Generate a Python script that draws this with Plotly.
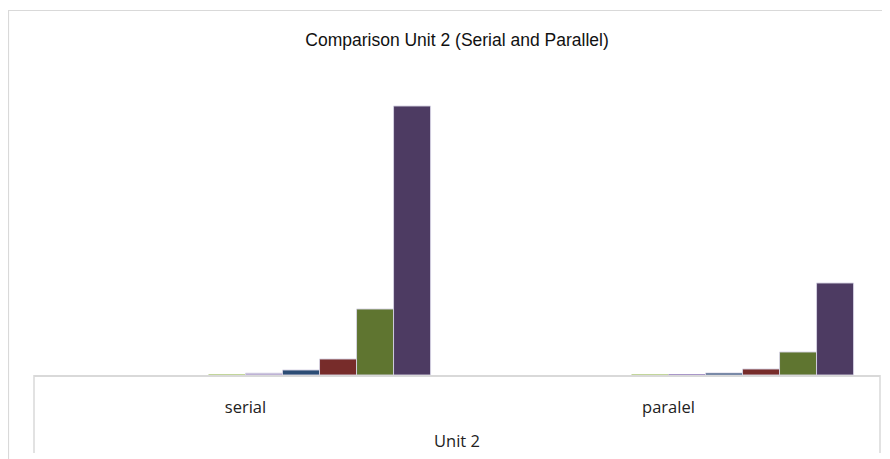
import plotly.graph_objects as go

categories = ["serial", "paralel"]
series_names = ["Series 1", "Series 2", "Series 3", "Series 4", "Series 5",
                "Series 6", "Series 7", "Series 8", "Series 9", "Series 10"]
serial_values = [0, 0, 0, 0, 0.4, 1.8, 5, 16, 66, 269]
paralel_values = [0, 0, 0, 0, 0.2, 0.8, 2, 6, 23, 92]
colors = ["#4F81BD", "#C0504D", "#9BBB59", "#8064A2", "#C3D69B",
          "#A997C9", "#2C4D75", "#772C2A", "#5F7530", "#4D3B62"]

# page body has an 8px margin, so the figure is sized to fit the window
OFF = 8
W, H = 890 - OFF, 459 - OFF
ml, mr, mt, mb = 34 - OFF, 10, 50 - OFF, 84
pw, ph = W - ml - mr, H - mt - mb

def px_x(p):
    return (p - OFF - ml) / pw

def px_y(p):
    return (H - mb - (p - OFF)) / ph

fig = go.Figure()
for i, name in enumerate(series_names):
    vals = [serial_values[i], paralel_values[i]]
    fig.add_trace(go.Bar(
        x=categories,
        y=vals,
        name=name,
        marker=dict(color=colors[i],
                    line=dict(color="rgba(215,212,228,0.9)",
                              width=[1 if v > 1 else 0 for v in vals])),
    ))

shapes = [
    dict(type="rect", xref="paper", yref="paper",
         x0=px_x(8.5), x1=px_x(910), y0=px_y(480), y1=px_y(10.5),
         line=dict(color="#d9d9d9", width=1.2), fillcolor="rgba(0,0,0,0)", layer="below"),
    dict(type="line", xref="paper", yref="paper",
         x0=0, x1=0, y0=0, y1=px_y(453), line=dict(color="#d9d9d9", width=1.5)),
    dict(type="line", xref="paper", yref="paper",
         x0=1, x1=1, y0=0, y1=px_y(453), line=dict(color="#d9d9d9", width=1.5)),
]

fig.update_layout(
    width=W, height=H,
    margin=dict(l=ml, r=mr, t=mt, b=mb),
    paper_bgcolor="white", plot_bgcolor="white",
    barmode="group", bargap=0.125, bargroupgap=0,
    showlegend=False,
    title=dict(text="Comparison Unit 2 (Serial and Parallel)",
               x=0.5, xref="paper", xanchor="center",
               y=1 - (40 - OFF) / H, yanchor="middle",
               font=dict(family="Liberation Sans, Arial, sans-serif", size=17.5, color="#111111")),
    xaxis=dict(
        showline=True, linecolor="#d9d9d9", linewidth=1.5,
        ticks="", showgrid=False, zeroline=False,
        tickfont=dict(family="Open Sans, Liberation Sans, sans-serif", size=16.5, color="#222222"),
        ticklabelstandoff=16,
        title=dict(text="Unit 2", standoff=19,
                   font=dict(family="Open Sans, Liberation Sans, sans-serif", size=16.5, color="#222222")),
    ),
    yaxis=dict(range=[0, ph], visible=False, showgrid=False, zeroline=False),
    shapes=shapes,
)

fig.write_html("out.html")
